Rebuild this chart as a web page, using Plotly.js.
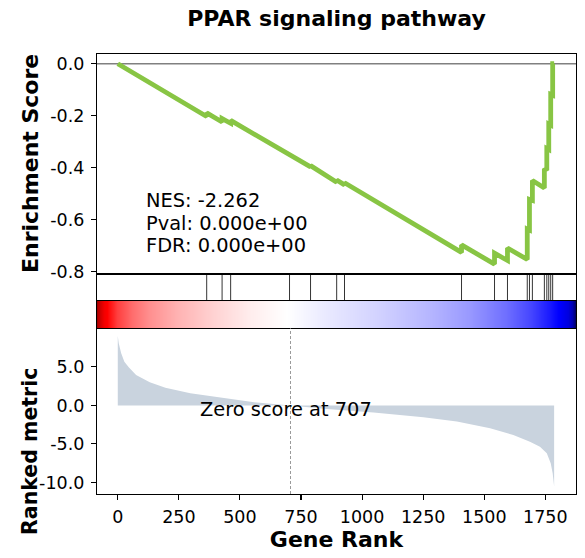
<!DOCTYPE html>
<html>
<head>
<meta charset="utf-8">
<script src="https://cdn.plot.ly/plotly-3.0.1.min.js"></script>
<style>html,body{margin:0;padding:0;background:#fff;}#chart{width:585px;height:558px;}</style>
</head>
<body>
<div id="chart"></div>
<script>
// ---- data ----
const chartTitle = "PPAR signaling pathway";
const zeroScoreRank = 707;
const nGenes = 1787;

// running enrichment score (vertices of the step curve)
const esRanks  = [0, 364, 364, 427, 427, 462, 462, 703, 703, 789, 789, 896, 896, 928, 928,
                  1407, 1407, 1542, 1542, 1595, 1595, 1676, 1676, 1685, 1685, 1697, 1697,
                  1746, 1746, 1756, 1756, 1764, 1764, 1772, 1772, 1780, 1780, 1786];
const esValues = [0, -0.203, -0.189, -0.224, -0.211, -0.229, -0.218, -0.352, -0.349, -0.397, -0.392,
                  -0.456, -0.447, -0.466, -0.458, -0.726, -0.697, -0.771, -0.729, -0.757, -0.709,
                  -0.753, -0.636, -0.640, -0.522, -0.526, -0.449, -0.478, -0.404, -0.410, -0.326,
                  -0.330, -0.232, -0.236, -0.118, -0.121, 0.0, 0.0];

// positions of gene-set hits
const hitRanks = [364, 427, 462, 703, 789, 896, 928, 1407, 1542, 1595, 1676, 1685, 1697,
                  1746, 1756, 1764, 1772, 1780];

// ranked metric (sampled along the list)
const metricRanks  = [0, 4, 14, 27, 45, 75, 131, 195, 297, 433, 570, 707, 842, 1047, 1251,
                      1388, 1524, 1619, 1687, 1728, 1756, 1772, 1780, 1786];
const metricValues = [9.03, 8.07, 6.78, 5.69, 4.96, 3.96, 3.01, 2.31, 1.58, 0.93, 0.37, 0.0,
                      -0.42, -0.93, -1.54, -2.10, -2.97, -3.83, -4.70, -5.35, -6.21, -7.51, -8.81, -10.5];

// statistics text
const statLines = ["NES: -2.262", "Pval: 0.000e+00", "FDR: 0.000e+00"];

// ticks
const xTickVals = [0, 250, 500, 750, 1000, 1250, 1500, 1750];
const xTickText = ["0", "250", "500", "750", "1000", "1250", "1500", "1750"];
const esTickVals = [0, -0.2, -0.4, -0.6, -0.8];
const esTickText = ["0.0", "-0.2", "-0.4", "-0.6", "-0.8"];
const rmTickVals = [5, 0, -5, -10];
const rmTickText = ["5.0", "0.0", "-5.0", "-10.0"];

// ---- drawing ----
const FONT = "DejaVu Sans, Verdana, sans-serif";
const xRange = [-85, 1875.5];

const hitX = [], hitY = [];
hitRanks.forEach(h => { hitX.push(h, h, null); hitY.push(0, 1, null); });

const traces = [
  { // ranked metric
    type: "scatter", mode: "lines", x: metricRanks, y: metricValues,
    fill: "tozeroy", fillcolor: "#C9D3DE", line: {width: 0, color: "#C9D3DE"},
    xaxis: "x", yaxis: "y", hoverinfo: "skip"
  },
  { // colour bar
    type: "heatmap", x: metricRanks, y: [0], z: [metricValues],
    zmin: -10.5, zmax: 10.5, zsmooth: "best", showscale: false,
    colorscale: [[0, "rgb(0,0,77)"], [0.25, "rgb(0,0,255)"], [0.5, "rgb(255,255,255)"],
                 [0.75, "rgb(255,0,0)"], [1, "rgb(128,0,0)"]],
    xaxis: "x3", yaxis: "y3", hoverinfo: "skip"
  },
  { // hits
    type: "scatter", mode: "lines", x: hitX, y: hitY,
    line: {width: 0.8, color: "#000"}, xaxis: "x2", yaxis: "y2", hoverinfo: "skip"
  },
  { // ES
    type: "scatter", mode: "lines", x: esRanks, y: esValues,
    line: {width: 4.8, color: "#88C544"}, xaxis: "x4", yaxis: "y4", hoverinfo: "skip"
  }
];

const boxAxis = {showline: true, mirror: true, linecolor: "#000", linewidth: 1.1,
                 showgrid: false, zeroline: false};
const tickFont = {family: FONT, size: 17.5, color: "#000"};

const dRank = [0, 0.3773], dBar = [0.3773, 0.4386], dHit = [0.4386, 0.5], dES = [0.5, 1];

const layout = {
  width: 585, height: 558,
  margin: {l: 97, r: 9, t: 54, b: 64, pad: 0},
  paper_bgcolor: "#fff", plot_bgcolor: "#fff",
  showlegend: false,
  font: {family: FONT, color: "#000"},
  title: {text: "<b>" + chartTitle + "</b>", font: {family: FONT, size: 22, color: "#000"},
          x: 0.5, xref: "paper", xanchor: "center", y: 1 - 18 / 558, yref: "container", yanchor: "middle"},
  xaxis: Object.assign({}, boxAxis, {
    domain: [0, 1], anchor: "y", range: xRange,
    tickmode: "array", tickvals: xTickVals, ticktext: xTickText,
    ticks: "outside", ticklen: 5, tickwidth: 1.1, tickcolor: "#000", tickfont: tickFont,
    ticklabelstandoff: 2,
    title: {text: "<b>Gene Rank</b>", font: {family: FONT, size: 22, color: "#000"}, standoff: 2}
  }),
  yaxis: Object.assign({}, boxAxis, {
    domain: dRank, anchor: "x", range: [-11.5, 10.06],
    tickmode: "array", tickvals: rmTickVals, ticktext: rmTickText,
    ticks: "outside", ticklen: 5, tickwidth: 1.1, tickcolor: "#000", tickfont: tickFont,
    ticklabelstandoff: 3
  }),
  xaxis2: Object.assign({}, boxAxis, {domain: [0, 1], anchor: "y2", range: xRange, showticklabels: false, ticks: ""}),
  yaxis2: Object.assign({}, boxAxis, {domain: dHit, anchor: "x2", range: [0, 1], showticklabels: false, ticks: ""}),
  xaxis3: Object.assign({}, boxAxis, {domain: [0, 1], anchor: "y3", range: [-0.5, nGenes - 0.5], showticklabels: false, ticks: ""}),
  yaxis3: Object.assign({}, boxAxis, {domain: dBar, anchor: "x3", range: [-0.5, 0.5], showticklabels: false, ticks: ""}),
  xaxis4: Object.assign({}, boxAxis, {domain: [0, 1], anchor: "y4", range: xRange, showticklabels: false, ticks: ""}),
  yaxis4: Object.assign({}, boxAxis, {
    domain: dES, anchor: "x4", range: [-0.809, 0.0375],
    tickmode: "array", tickvals: esTickVals, ticktext: esTickText,
    ticks: "outside", ticklen: 5, tickwidth: 1.1, tickcolor: "#000", tickfont: tickFont,
    ticklabelstandoff: 3
  }),
  shapes: [
    {type: "line", xref: "x4 domain", yref: "y4", x0: 0, x1: 1, y0: 0, y1: 0,
     line: {color: "#808080", width: 1.4}, layer: "below"},
    {type: "line", xref: "x", yref: "y domain", x0: zeroScoreRank, x1: zeroScoreRank, y0: 0, y1: 1,
     line: {color: "#808080", width: 0.8, dash: "3px,2px"}, layer: "above"}
  ],
  annotations: [
    {text: "<b>Enrichment Score</b>", xref: "paper", yref: "paper", x: 0, y: (dES[0] + dES[1]) / 2,
     xanchor: "center", yanchor: "middle", xshift: -67, textangle: -90, showarrow: false,
     font: {family: FONT, size: 22, color: "#000"}},
    {text: "<b>Ranked metric</b>", xref: "paper", yref: "paper", x: 0, y: 0.0955,
     xanchor: "center", yanchor: "middle", xshift: -67, textangle: -90, showarrow: false,
     font: {family: FONT, size: 20.5, color: "#000"}},
    {text: "Zero score at " + zeroScoreRank, xref: "x", yref: "y", x: zeroScoreRank, y: 0,
     xanchor: "center", yanchor: "middle", xshift: -5, yshift: -4, showarrow: false,
     font: {family: FONT, size: 19.4, color: "#000"}}
  ]
};

const statY = [0.3327, 0.2309, 0.1286];
statLines.forEach((t, i) => {
  layout.annotations.push({text: t, xref: "x4 domain", yref: "y4 domain", x: 0.1, y: statY[i],
    xanchor: "left", yanchor: "middle", showarrow: false, borderpad: 0,
    font: {family: FONT, size: 19.4, color: "#000"}});
});

Plotly.newPlot("chart", traces, layout, {displayModeBar: false, staticPlot: true});
</script>
</body>
</html>
